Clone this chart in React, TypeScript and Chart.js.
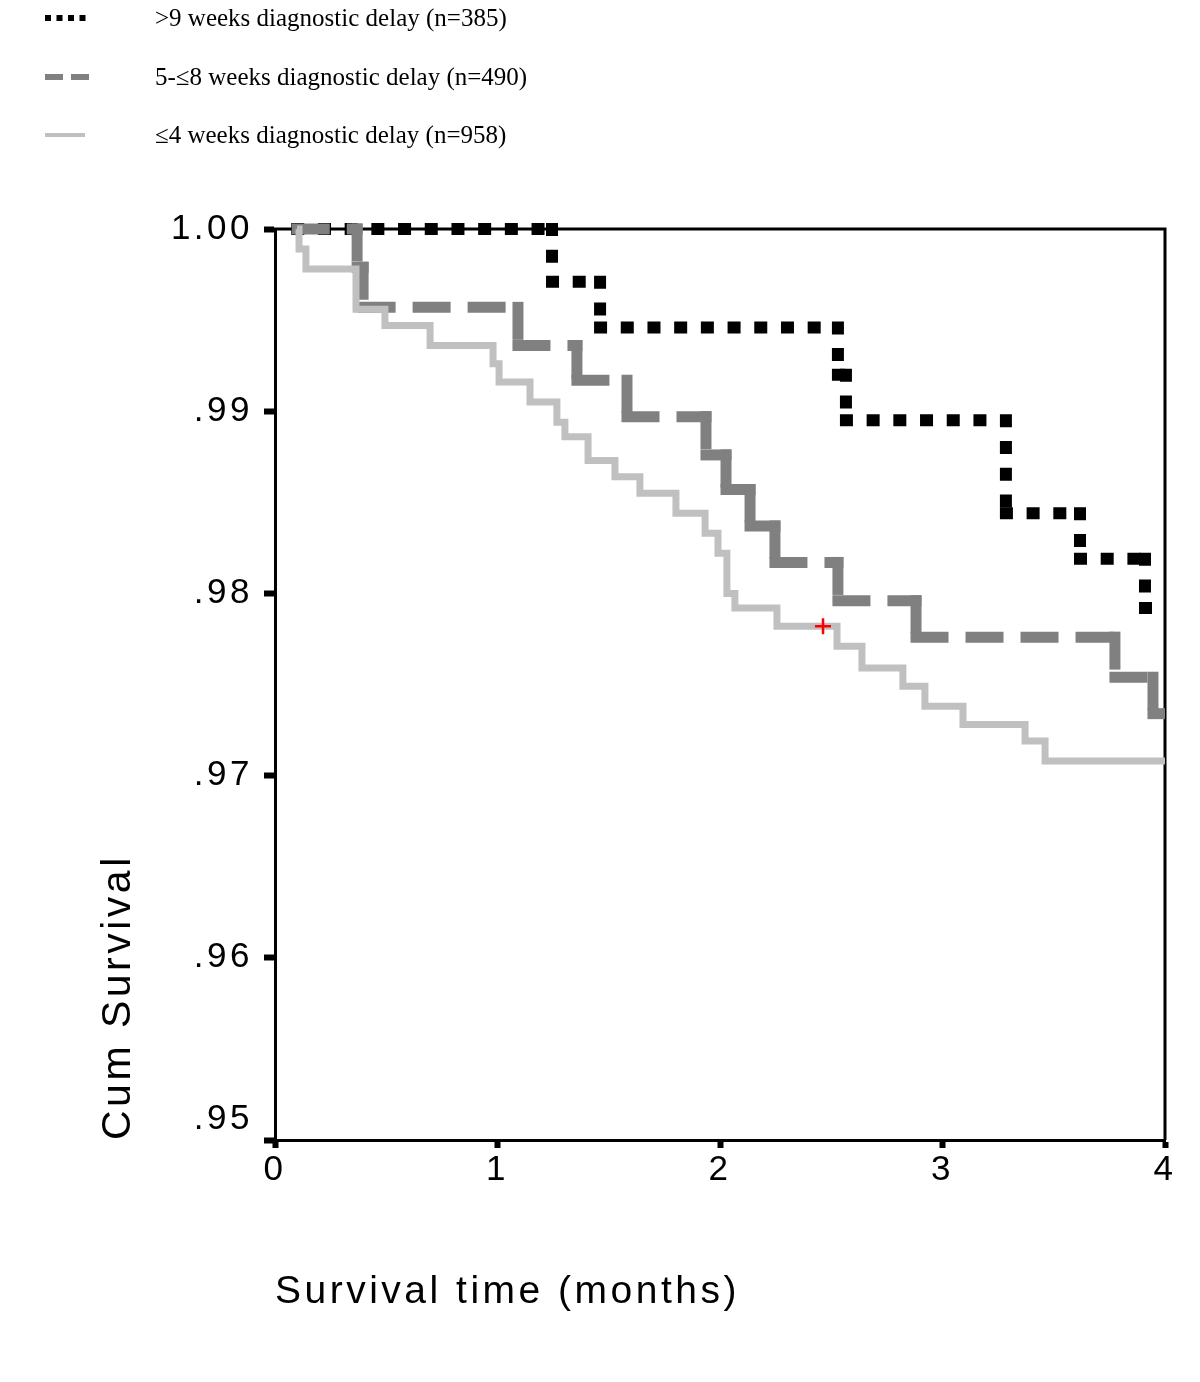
import React, { useEffect, useRef } from "react";
import { Chart, registerables } from "chart.js";

Chart.register(...registerables);

// ---- data ----
const seriesLabels = [
  ">9 weeks diagnostic delay (n=385)",
  "5-≤8 weeks diagnostic delay (n=490)",
  "≤4 weeks diagnostic delay (n=958)",
];

// >9 weeks diagnostic delay (n=385)
const over9Times = [0.1, 1.245, 1.461, 2.53, 2.566, 3.285, 3.618, 3.91, 3.955];
const over9Surv = [1.0, 0.9971, 0.9946, 0.992, 0.9895, 0.9844, 0.9819, 0.9792, 0.9792];

// 5-<=8 weeks diagnostic delay (n=490)
const mid58Times = [0.1, 0.369, 0.396, 1.092, 1.357, 1.582, 1.937, 2.027, 2.135, 2.247, 2.53, 2.881, 3.775, 3.946, 4.0];
const mid58Surv = [1.0, 0.9979, 0.9957, 0.9936, 0.9917, 0.9897, 0.9876, 0.9857, 0.9837, 0.9817, 0.9796, 0.9776, 0.9754, 0.9734, 0.9734];

// <=4 weeks diagnostic delay (n=958)
const under4Times = [0.099, 0.108, 0.139, 0.364, 0.494, 0.697, 0.98, 1.007, 1.146, 1.267, 1.303, 1.407, 1.528, 1.64, 1.802, 1.933, 1.991, 2.031, 2.067, 2.256, 2.526, 2.638, 2.822, 2.921, 3.092, 3.371, 3.461, 4.0];
const under4Surv = [1.0, 0.9989, 0.9978, 0.9956, 0.9947, 0.9936, 0.9926, 0.9916, 0.9905, 0.9894, 0.9886, 0.9873, 0.9864, 0.9855, 0.9844, 0.9833, 0.9822, 0.98, 0.9792, 0.9782, 0.9771, 0.9759, 0.9749, 0.9738, 0.9728, 0.9719, 0.9708, 0.9708];

// censored observation marker
const censorTimes = [2.463];
const censorSurv = [0.9782];

const xTicks = [0, 1, 2, 3, 4];
const yTicks = [0.95, 0.96, 0.97, 0.98, 0.99, 1.0];

const toPoints = (t: number[], s: number[]) => t.map((x, i) => ({ x, y: s[i] }));

// Kaplan-Meier step path: each horizontal and vertical run becomes its own segment
const stepPoints = (t: number[], s: number[]) => {
  const pts: { x: number; y: number }[] = [{ x: t[0], y: s[0] }];
  for (let i = 1; i < t.length; i++) {
    if (s[i] !== s[i - 1]) pts.push({ x: t[i], y: s[i - 1] });
    pts.push({ x: t[i], y: s[i] });
  }
  return pts;
};

// restart the dash pattern on every segment (as the original plotting program does)
const restartDash = { borderDashOffset: (ctx: any) => (ctx.p0DataIndex % 2) * 0.001 };

const framePlugin = {
  id: "frame",
  beforeDatasetsDraw(chart: any) {
    const { ctx, chartArea: a } = chart;
    ctx.save();
    ctx.strokeStyle = "#000";
    ctx.lineWidth = 3;
    ctx.beginPath();
    ctx.moveTo(a.left - 4, a.top);
    ctx.lineTo(a.right, a.top);
    ctx.lineTo(a.right, a.bottom);
    ctx.stroke();
    ctx.restore();
  },
};

const spacingPlugin = {
  id: "spacing",
  beforeDraw(chart: any) {
    (chart.ctx as any).letterSpacing = "3.5px";
  },
  afterDraw(chart: any) {
    (chart.ctx as any).letterSpacing = "0px";
  },
};

const legendMarks = [
  { color: "#000000", width: 6, dash: "6 5.5", len: 41 },
  { color: "#808080", width: 6, dash: "18 8", len: 44 },
  { color: "#c0c0c0", width: 4, dash: "", len: 40 },
];
const legendRowY = [18, 77, 135];

export default function App() {
  const ref = useRef<HTMLCanvasElement | null>(null);

  useEffect(() => {
    if (!ref.current) return;
    Chart.defaults.font.family = "'Liberation Sans', Arial, sans-serif";
    const chart = new Chart(ref.current, {
      type: "line",
      data: {
        datasets: [
          {
            label: "censored",
            data: toPoints(censorTimes, censorSurv),
            showLine: false,
            pointStyle: "cross",
            pointRadius: 8,
            pointBorderColor: "#ff0000",
            pointBorderWidth: 2.5,
            pointBackgroundColor: "#ff0000",
            clip: 10,
          } as any,
          {
            label: seriesLabels[2],
            data: toPoints(under4Times, under4Surv),
            stepped: true,
            borderColor: "#c0c0c0",
            borderWidth: 7,
            pointRadius: 0,
            fill: false,
            borderCapStyle: "butt",
            borderJoinStyle: "miter",
            clip: 10,
          } as any,
          {
            label: seriesLabels[1],
            data: stepPoints(mid58Times, mid58Surv),
            borderColor: "#808080",
            borderWidth: 11,
            borderDash: [27, 28],
            pointRadius: 0,
            fill: false,
            borderCapStyle: "square",
            borderJoinStyle: "miter",
            segment: restartDash,
            clip: { left: 10, top: 10, right: 0, bottom: 10 },
          } as any,
          {
            label: seriesLabels[0],
            data: stepPoints(over9Times, over9Surv),
            borderColor: "#000000",
            borderWidth: 12,
            borderDash: [1, 25.7],
            pointRadius: 0,
            fill: false,
            borderCapStyle: "square",
            borderJoinStyle: "miter",
            segment: restartDash,
            clip: 10,
          } as any,
        ],
      },
      options: {
        animation: false,
        responsive: false,
        devicePixelRatio: 1,
        layout: { padding: { left: 0, top: 229, right: 35, bottom: 0 } },
        plugins: { legend: { display: false }, tooltip: { enabled: false } },
        scales: {
          x: {
            type: "linear",
            min: 0,
            max: 4,
            afterBuildTicks: (s: any) => {
              s.ticks = xTicks.map((v) => ({ value: v }));
            },
            afterFit: (s: any) => {
              s.height = 242;
            },
            grid: { drawOnChartArea: false, tickLength: 8, tickWidth: 6, tickColor: "#000" },
            border: { color: "#000", width: 3 },
            ticks: { color: "#000", font: { size: 35 }, padding: 1, callback: (v: any) => String(v) },
            title: {
              display: true,
              text: "Survival time (months)",
              align: "start",
              color: "#000",
              font: { size: 39 },
              padding: { top: 0, bottom: 66 },
            },
          },
          y: {
            type: "linear",
            min: 0.95,
            max: 1.0,
            afterBuildTicks: (s: any) => {
              s.ticks = yTicks.map((v) => ({ value: v }));
            },
            afterFit: (s: any) => {
              s.width = 275;
            },
            grid: { drawOnChartArea: false, tickLength: 11, tickWidth: 6, tickColor: "#000" },
            border: { color: "#000", width: 3 },
            ticks: {
              color: "#000",
              font: { size: 35 },
              padding: 11,
              callback: (v: any) => {
                const n = Number(v);
                const s = n.toFixed(2).replace(/^0/, "");
                return n < 0.9505 ? [s, ""] : s;
              },
            },
            title: {
              display: true,
              text: "Cum Survival",
              align: "start",
              color: "#000",
              font: { size: 41 },
              padding: { top: 94, bottom: 0 },
            },
          },
        },
      },
      plugins: [framePlugin, spacingPlugin],
    } as any);
    return () => chart.destroy();
  }, []);

  return (
    <div style={{ position: "absolute", left: 0, top: 0, width: 1200, height: 1382, background: "#fff" }}>
      <canvas ref={ref} width={1200} height={1382} style={{ position: "absolute", left: 0, top: 0, width: 1200, height: 1382 }} />
      {seriesLabels.map((lab, i) => (
        <div key={i} style={{ position: "absolute", left: 0, top: legendRowY[i] - 15, height: 30, width: 700 }}>
          <svg width={50} height={30} style={{ position: "absolute", left: 45, top: 0 }}>
            <line
              x1={0}
              y1={15}
              x2={legendMarks[i].len}
              y2={15}
              stroke={legendMarks[i].color}
              strokeWidth={legendMarks[i].width}
              strokeDasharray={legendMarks[i].dash || undefined}
            />
          </svg>
          <div
            style={{
              position: "absolute",
              left: 155,
              top: 0,
              lineHeight: "30px",
              fontSize: 25,
              fontFamily: "'Liberation Serif', 'Times New Roman', serif",
              color: "#000",
              whiteSpace: "nowrap",
            }}
          >
            {lab}
          </div>
        </div>
      ))}
    </div>
  );
}
